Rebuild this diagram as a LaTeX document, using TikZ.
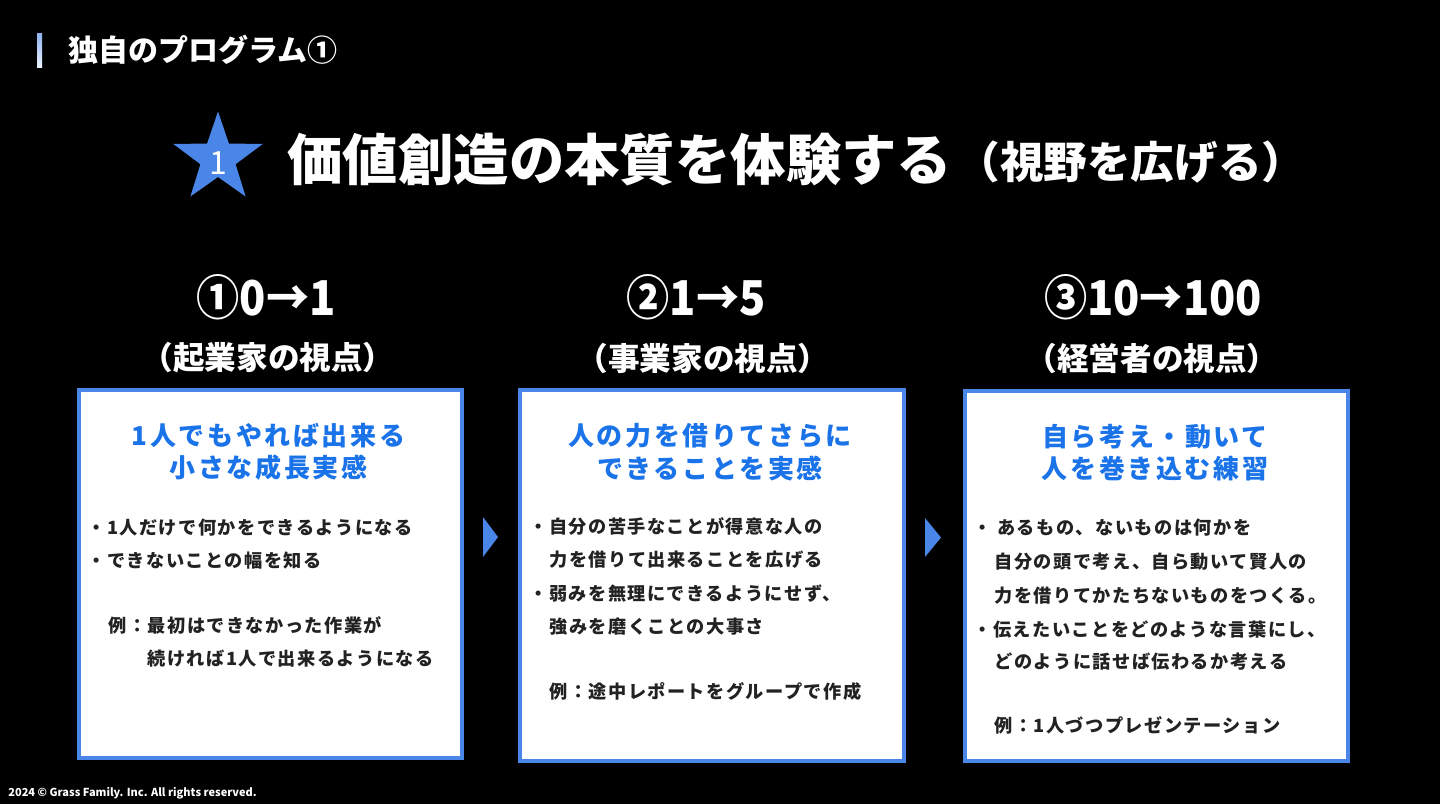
\documentclass[tikz,border=0pt]{standalone}
\usepackage{fontspec}
\setmainfont{Noto Sans CJK JP}
\newfontfamily\jp{Noto Sans CJK JP}
\newfontfamily\bodyf{Noto Sans CJK JP}[LetterSpace=8]
\newfontfamily\headf{Noto Sans CJK JP}[LetterSpace=10]
\usetikzlibrary{calc}
\definecolor{bg}{RGB}{0,0,0}
\definecolor{boxblue}{RGB}{74,134,232}
\definecolor{starblue}{RGB}{74,134,232}
\definecolor{headblue}{RGB}{26,115,232}
\definecolor{bodytext}{RGB}{34,34,34}
\tikzset{
  boxnode/.style={draw=boxblue, line width=2pt, fill=white, anchor=north west, inner sep=0},
  boxhead/.style={text=headblue, font=\headf\bfseries\fontsize{13}{13}\selectfont, inner sep=0},
  bodyline/.style={anchor=base west, text=bodytext, font=\bodyf\bfseries\fontsize{9.1}{9.1}\selectfont, inner sep=0},
  colnum/.style={text=white, font=\jp\bfseries\fontsize{24}{24}\selectfont, xscale=0.9, transform shape, inner sep=0},
  colsub/.style={text=white, font=\jp\bfseries\fontsize{15.8}{15.8}\selectfont, inner sep=0},
  tri/.style={fill=boxblue},
}
\begin{document}
\begin{tikzpicture}[x=0.5pt,y=-0.5pt]
\fill[bg] (0,0) rectangle (1440,804);
\useasboundingbox (0,0) rectangle (1440,804);
% top-left label
\shade[top color={rgb,255:red,140;green,178;blue,240}, bottom color={rgb,255:red,235;green,242;blue,253}] (37,33) rectangle (42,67);
\node[anchor=west, text=white, font=\jp\bfseries\fontsize{15}{15}\selectfont, inner sep=0] (toptitle) at (68,50) {独自のプログラム①};
% star
\fill[starblue, shift={(218,158.5)}] (-90:47) -- (-54:18.5) -- (-18:47) -- (18:18.5) -- (54:47) -- (90:18.5) -- (126:47) -- (162:18.5) -- (198:47) -- (234:18.5) -- cycle;
\node[text=white, font=\jp\fontsize{16}{16}\selectfont, inner sep=0] (starnum) at (218,163) {1};
% main title
\node[anchor=west, text=white, font=\jp\bfseries\fontsize{27.7}{27.7}\selectfont, inner sep=0] (maintitle) at (287,160) {価値創造の本質を体験する};
\node[anchor=west, text=white, font=\jp\bfseries\fontsize{21.8}{21.8}\selectfont, inner sep=0] (subtitle) at (956,162) {（視野を広げる）};
% column headings
\node[colnum] (n1) at (266,297) {①0→1};
\node[colnum] (n2) at (696,297) {②1→5};
\node[colnum] (n3) at (1153,297) {③10→100};
\node[colsub] (s1) at (268,358) {（起業家の視点）};
\node[colsub] (s2) at (703,358) {（事業家の視点）};
\node[colsub] (s3) at (1152,358) {（経営者の視点）};
% boxes
\node[boxnode, minimum width=191.5pt, minimum height=184pt] (b1) at (77,388) {};
\node[boxnode, minimum width=192pt, minimum height=185.5pt] (b2) at (518,388) {};
\node[boxnode, minimum width=191.5pt, minimum height=185pt] (b3) at (963,389) {};
% arrows between boxes
\fill[tri] (483,517) -- (498,537) -- (483,557) -- cycle;
\fill[tri] (925,518) -- (941,537.5) -- (925,557) -- cycle;
% box 1
\node[boxhead] (h1a) at (268.5,436) {1人でもやれば出来る};
\node[boxhead] (h1b) at (268.5,468) {小さな成長実感};
\node[bodyline] (l11) at (87,534) {・1人だけで何かをできるようになる};
\node[bodyline] (l12) at (87,567) {・できないことの幅を知る};
\node[bodyline] (l13) at (108,632) {例：最初はできなかった作業が};
\node[bodyline] (l14) at (147,665) {続ければ1人で出来るようになる};
% box 2
\node[boxhead] (h2a) at (710,436) {人の力を借りてさらに};
\node[boxhead] (h2b) at (710,468) {できることを実感};
\node[bodyline] (l21) at (529,533) {・自分の苦手なことが得意な人の};
\node[bodyline] (l22) at (549,566) {力を借りて出来ることを広げる};
\node[bodyline] (l23) at (529,600) {・弱みを無理にできるようにせず、};
\node[bodyline] (l24) at (549,633) {強みを磨くことの大事さ};
\node[bodyline] (l25) at (549,698) {例：途中レポートをグループで作成};
% box 3
\node[boxhead] (h3a) at (1155,437) {自ら考え・動いて};
\node[boxhead] (h3b) at (1155,469) {人を巻き込む練習};
\node[bodyline] (l31) at (973,534) {・ あるもの、ないものは何かを};
\node[bodyline] (l32) at (994,568) {自分の頭で考え、自ら動いて賢人の};
\node[bodyline] (l33) at (994,602) {力を借りてかたちないものをつくる。};
\node[bodyline] (l34) at (973,636) {・伝えたいことをどのような言葉にし、};
\node[bodyline] (l35) at (994,668) {どのように話せば伝わるか考える};
\node[bodyline] (l36) at (994,732) {例：1人づつプレゼンテーション};
% footer
\node[anchor=west, text=white, font=\jp\bfseries\fontsize{5.5}{5.5}\selectfont, inner sep=0] (footer) at (8,793) {2024 © Grass Family. Inc. All rights reserved.};
\end{tikzpicture}
\end{document}
